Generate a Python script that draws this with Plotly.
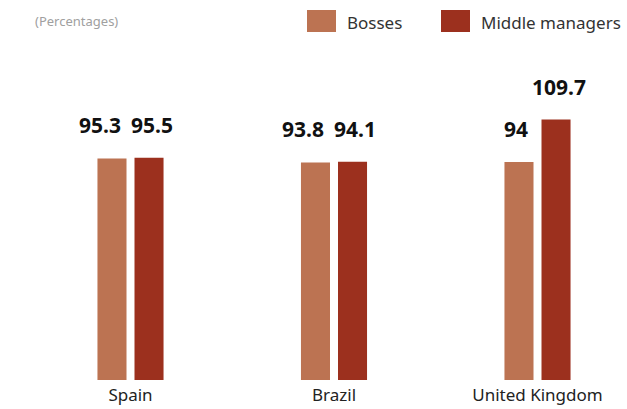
import plotly.graph_objects as go

categories = ["Spain", "Brazil", "United Kingdom"]
bosses = [95.3, 93.8, 94]
middle_managers = [95.5, 94.1, 109.7]
series_names = ["Bosses", "Middle managers"]
unit_note = "(Percentages)"

c_bosses = "#BC7352"
c_middle = "#9C301E"
font_fam = "Noto Sans, Open Sans, DejaVu Sans, sans-serif"

W, H = 627, 409
ml, mr, mt, mb = 0, 0, 60, 29

fig = go.Figure()
fig.add_trace(go.Bar(x=categories, y=bosses, name=series_names[0],
                     marker=dict(color=c_bosses, line=dict(width=0)),
                     showlegend=False, hoverinfo="x+y"))
fig.add_trace(go.Bar(x=categories, y=middle_managers, name=series_names[1],
                     marker=dict(color=c_middle, line=dict(width=0)),
                     showlegend=False, hoverinfo="x+y"))

annotations = []
for cat, v in zip(categories, bosses):
    annotations.append(dict(x=cat, y=v, xref="x", yref="y", text=f"<b>{v:g}</b>",
                            showarrow=False, xanchor="right", yanchor="bottom",
                            xshift=-8, yshift=17,
                            font=dict(family=font_fam, size=21, color="#111111")))
for cat, v in zip(categories, middle_managers):
    annotations.append(dict(x=cat, y=v, xref="x", yref="y", text=f"<b>{v:g}</b>",
                            showarrow=False, xanchor="center", yanchor="bottom",
                            xshift=21, yshift=17,
                            font=dict(family=font_fam, size=21, color="#111111")))

plot_h = H - mt - mb
def py(pix):
    return (H - mb - pix) / plot_h
def px(pix):
    return pix / W

# custom legend
shapes = []
legend_items = [(series_names[0], c_bosses, 307, 345), (series_names[1], c_middle, 441, 479)]
for name, col, sx, tx in legend_items:
    shapes.append(dict(type="rect", xref="paper", yref="paper",
                       x0=px(sx), x1=px(sx + 29), y0=py(32), y1=py(10),
                       fillcolor=col, line=dict(width=0)))
    annotations.append(dict(x=px(tx), y=py(23), xref="paper", yref="paper", text=name,
                            showarrow=False, xanchor="left", yanchor="middle",
                            font=dict(family=font_fam, size=17, color="#333333")))

annotations.append(dict(x=px(33), y=py(21), xref="paper", yref="paper", text=unit_note,
                        showarrow=False, xanchor="left", yanchor="middle",
                        font=dict(family=font_fam, size=13, color="#a0a0a0")))

band = 203.5
r0 = -130.5 / band
r1 = r0 + (W - ml - mr) / band

fig.update_layout(
    width=W, height=H,
    margin=dict(l=ml, r=mr, t=mt, b=mb, pad=0),
    paper_bgcolor="white", plot_bgcolor="white",
    barmode="group", bargap=0.636, bargroupgap=0.216,
    annotations=annotations, shapes=shapes,
    showlegend=False,
    xaxis=dict(range=[r0, r1], showgrid=False, zeroline=False, showline=False,
               ticks="", automargin=False, ticklabelstandoff=3,
               tickfont=dict(family=font_fam, size=17, color="#222222")),
    yaxis=dict(range=[13.2, 13.2 + plot_h / 2.699], showgrid=False, zeroline=False,
               showline=False, showticklabels=False, ticks="", automargin=False),
    font=dict(family=font_fam),
)

fig.write_html("out.html", config={"displayModeBar": False},
               post_script="document.body.style.margin='0';document.body.style.padding='0';document.body.style.overflow='hidden';")
